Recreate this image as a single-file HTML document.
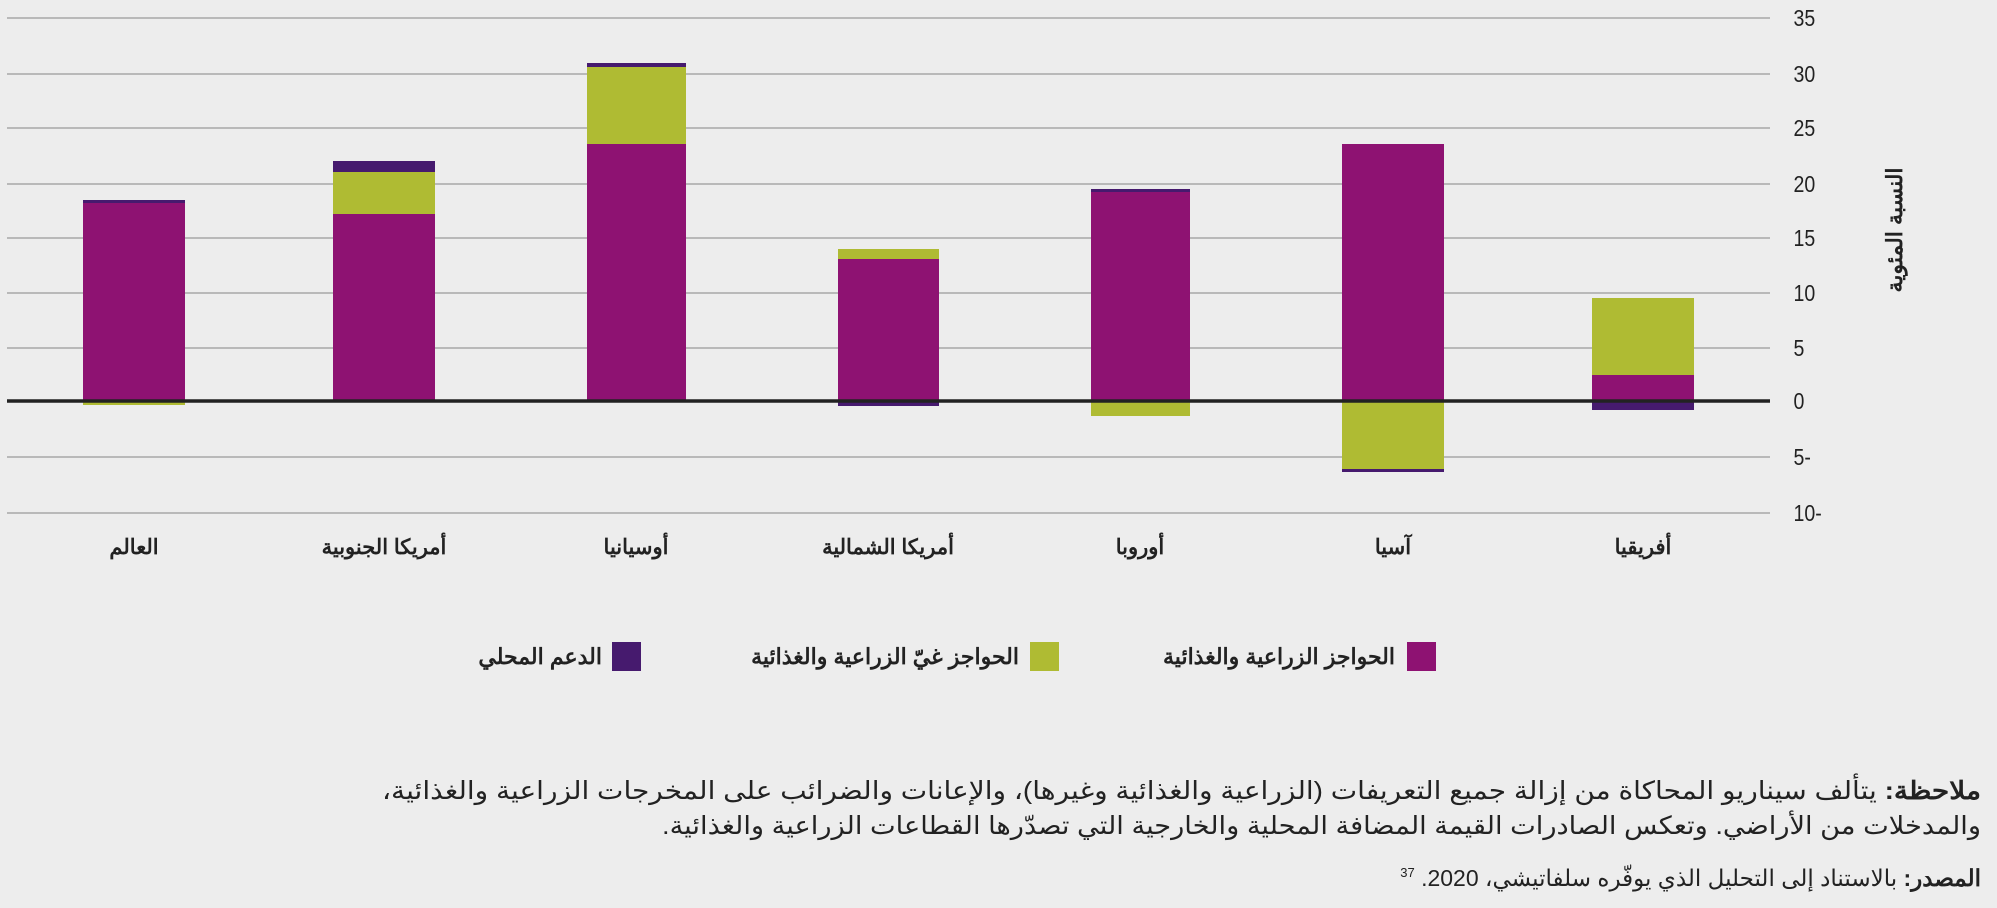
<!DOCTYPE html>
<html><head><meta charset="utf-8"><style>
html,body{margin:0;padding:0;background:#ededed;}
svg{display:block}
text{font-family:"Liberation Sans","Noto Sans CJK SC",sans-serif;}
</style></head><body>
<svg width="1997" height="908" viewBox="0 0 1997 908" xmlns="http://www.w3.org/2000/svg">
<rect width="1997" height="908" fill="#ededed"/>
<g stroke="#a8a8a8" stroke-width="1.5">
<line x1="7" x2="1770" y1="18" y2="18"/>
<line x1="7" x2="1770" y1="74" y2="74"/>
<line x1="7" x2="1770" y1="128" y2="128"/>
<line x1="7" x2="1770" y1="184" y2="184"/>
<line x1="7" x2="1770" y1="238" y2="238"/>
<line x1="7" x2="1770" y1="293" y2="293"/>
<line x1="7" x2="1770" y1="348" y2="348"/>
<line x1="7" x2="1770" y1="457" y2="457"/>
<line x1="7" x2="1770" y1="513" y2="513"/>
</g>
<rect x="83" y="200" width="102" height="4" fill="#461a6e"/>
<rect x="83" y="203" width="102" height="198" fill="#8e1272"/>
<rect x="83" y="401" width="102" height="4" fill="#afbb33"/>
<rect x="333" y="161" width="102" height="11" fill="#461a6e"/>
<rect x="333" y="172" width="102" height="42" fill="#afbb33"/>
<rect x="333" y="214" width="102" height="187" fill="#8e1272"/>
<rect x="587" y="63" width="99" height="4" fill="#461a6e"/>
<rect x="587" y="67" width="99" height="77" fill="#afbb33"/>
<rect x="587" y="144" width="99" height="257" fill="#8e1272"/>
<rect x="838" y="249" width="101" height="10" fill="#afbb33"/>
<rect x="838" y="259" width="101" height="142" fill="#8e1272"/>
<rect x="838" y="401" width="101" height="5" fill="#461a6e"/>
<rect x="1091" y="189" width="99" height="3" fill="#461a6e"/>
<rect x="1091" y="192" width="99" height="209" fill="#8e1272"/>
<rect x="1091" y="401" width="99" height="15" fill="#afbb33"/>
<rect x="1342" y="144" width="102" height="257" fill="#8e1272"/>
<rect x="1342" y="401" width="102" height="68" fill="#afbb33"/>
<rect x="1342" y="469" width="102" height="3" fill="#461a6e"/>
<rect x="1592" y="298" width="102" height="77" fill="#afbb33"/>
<rect x="1592" y="375" width="102" height="26" fill="#8e1272"/>
<rect x="1592" y="401" width="102" height="9" fill="#461a6e"/>
<line x1="7" x2="1770" y1="401" y2="401" stroke="#222" stroke-width="3.5"/>
<g font-size="23" fill="#222" transform="scale(0.85,1)">
<text x="2110" y="26">35</text>
<text x="2110" y="82">30</text>
<text x="2110" y="136">25</text>
<text x="2110" y="192">20</text>
<text x="2110" y="246">15</text>
<text x="2110" y="301">10</text>
<text x="2110" y="356">5</text>
<text x="2110" y="409">0</text>
<text x="2110" y="465">5-</text>
<text x="2110" y="521">10-</text>
</g>
<text transform="translate(1896,230) rotate(-90)" text-anchor="middle" dominant-baseline="middle" font-size="22" font-weight="bold" fill="#222">النسبة المئوية</text>
<g font-size="21" font-weight="bold" fill="#222" text-anchor="middle">
<text x="134" y="554">العالم</text>
<text x="384" y="554">أمريكا الجنوبية</text>
<text x="636" y="554">أوسيانيا</text>
<text x="888" y="554">أمريكا الشمالية</text>
<text x="1140" y="554">أوروبا</text>
<text x="1393" y="554">آسيا</text>
<text x="1643" y="554">أفريقيا</text>
</g>
<rect x="1407" y="642" width="29" height="29" fill="#8e1272"/>
<rect x="1030" y="642" width="29" height="29" fill="#afbb33"/>
<rect x="612" y="642" width="29" height="29" fill="#461a6e"/>
<g font-size="22" font-weight="bold" fill="#222" text-anchor="end">
<text x="1395" y="664">الحواجز الزراعية والغذائية</text>
<text x="1019" y="664">الحواجز غيّ الزراعية والغذائية</text>
<text x="602" y="664">الدعم المحلي</text>
</g>
<g font-size="25" fill="#222" text-anchor="start" direction="rtl">
<text x="1981" y="799" textLength="1599" lengthAdjust="spacingAndGlyphs"><tspan font-weight="bold">ملاحظة:</tspan> يتألف سيناريو المحاكاة من إزالة جميع التعريفات (الزراعية والغذائية وغيرها)، والإعانات والضرائب على المخرجات الزراعية والغذائية،</text>
<text x="1981" y="834" textLength="1319" lengthAdjust="spacingAndGlyphs">والمدخلات من الأراضي. وتعكس الصادرات القيمة المضافة المحلية والخارجية التي تصدّرها القطاعات الزراعية والغذائية.</text>
<text x="1981" y="886" font-size="23"><tspan font-weight="bold">المصدر:</tspan> بالاستناد إلى التحليل الذي يوفّره سلفاتيشي، 2020. <tspan font-size="13" dy="-9">37</tspan></text>
</g>
</svg>
</body></html>
